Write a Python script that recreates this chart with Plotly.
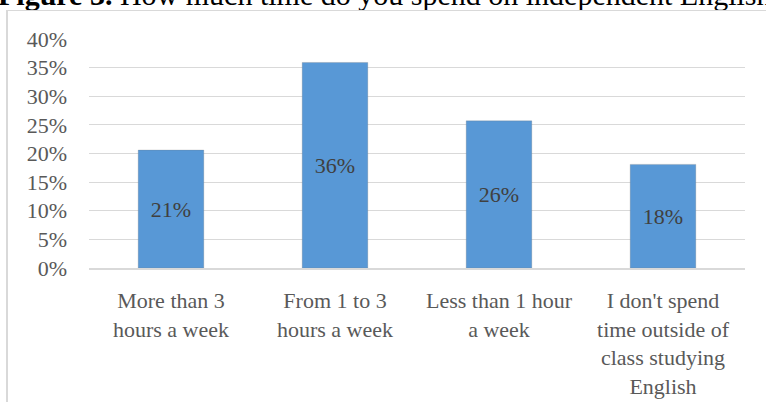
import plotly.graph_objects as go

categories = [
    "More than 3<br>hours a week",
    "From 1 to 3<br>hours a week",
    "Less than 1 hour<br>a week",
    "I don't spend<br>time outside of<br>class studying<br>English",
]
values = [0.206, 0.359, 0.257, 0.181]
title_text = "<b>Figure 3.</b> How much time do you spend on independent English"

FONT = "Liberation Serif, Times New Roman, serif"
L, R, T, B = 89, 21, 38.5, 134
W, H = 766, 402
pw, ph = W - L - R, H - T - B

def px_x(p):
    return (p - L) / pw

def px_y(p):
    return (H - B - p) / ph

fig = go.Figure(
    go.Bar(
        x=categories,
        y=values,
        width=0.4,
        marker=dict(color="#5898d6", line=dict(color="rgba(120,120,120,0.25)", width=1)),
        texttemplate="%{y:.0%}",
        textposition="inside",
        insidetextanchor="middle",
        textfont=dict(family=FONT, size=22, color="#404040"),
        cliponaxis=False,
    )
)

fig.update_layout(
    width=W,
    height=H,
    margin=dict(l=L, r=R, t=T, b=B, pad=0, autoexpand=False),
    paper_bgcolor="white",
    plot_bgcolor="white",
    showlegend=False,
    font=dict(family=FONT, size=22, color="#595959"),
    bargap=0.6,
    annotations=[
        dict(
            text=title_text, xref="paper", yref="paper",
            x=px_x(-4), y=px_y(-6), xanchor="left", yanchor="middle",
            showarrow=False, font=dict(family=FONT, size=30, color="black"),
        )
    ],
)

fig.update_yaxes(
    range=[0, 0.4],
    dtick=0.05,
    tickformat=".0%",
    showgrid=True,
    gridcolor="#d9d9d9",
    gridwidth=1,
    zeroline=False,
    showline=False,
    ticks="",
    ticklabelstandoff=21,
    automargin=False,
    tickfont=dict(family=FONT, size=22, color="#595959"),
    fixedrange=True,
)
fig.update_xaxes(
    showline=True,
    linecolor="#d9d9d9",
    linewidth=1.5,
    ticks="",
    ticklabelstandoff=12,
    automargin=False,
    tickfont=dict(family=FONT, size=22, color="#595959"),
    tickangle=0,
    fixedrange=True,
)

frame_js = (
    "document.body.style.margin='0';"
    "document.body.style.overflow='hidden';"
    "var f=document.createElement('div');"
    "f.style.cssText='position:absolute;left:6px;top:10px;width:800px;height:440px;"
    "border-left:2px solid #d9d9d9;border-top:1.5px solid #d9d9d9;pointer-events:none;z-index:10;';"
    "document.body.appendChild(f);"
)

fig.write_html(
    "out.html",
    config={"displayModeBar": False, "staticPlot": True},
    post_script=frame_js,
)
